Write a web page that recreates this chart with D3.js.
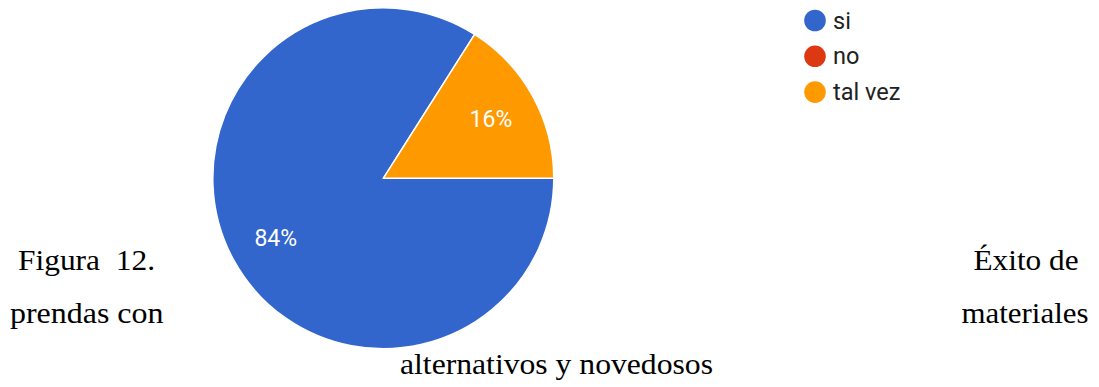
<!DOCTYPE html>
<html>
<head>
<meta charset="utf-8">
<script src="https://cdn.jsdelivr.net/npm/d3@7"></script>
<style>
  html, body { margin: 0; padding: 0; background: #ffffff; }
  svg { display: block; }
  .caption text { white-space: pre; }
</style>
</head>
<body>
<svg id="chart" width="1099" height="387"></svg>
<script>
// Respuestas de la encuesta (porcentaje)
const categories = ["si", "no", "tal vez"];
const values = [84, 0, 16];
const colors = ["#3366cc", "#dc3912", "#ff9900"];

// Pie de figura, línea por línea (texto justificado alrededor del gráfico)
const captionLines = [
  { text: "Figura  12.", x: 18, y: 270, anchor: "start", len: 137 },
  { text: "Éxito de", x: 1078.5, y: 270, anchor: "end", len: 105 },
  { text: "prendas con", x: 10, y: 322.5, anchor: "start", len: 153.5 },
  { text: "materiales", x: 1088.5, y: 322.5, anchor: "end", len: 127 },
  { text: "alternativos y novedosos", x: 556.5, y: 373.5, anchor: "middle", len: 313 }
];

const svg = d3.select("#chart");
const cx = 383.3, cy = 178.3, radius = 170.5;

const data = categories.map((c, i) => ({ label: c, value: values[i], color: colors[i] }));

const pie = d3.pie()
  .value(d => d.value)
  .sort(null)
  .startAngle(Math.PI / 2)
  .endAngle(Math.PI / 2 + 2 * Math.PI);

const arcs = pie(data);
const arc = d3.arc().innerRadius(0).outerRadius(radius);
const labelArc = d3.arc().innerRadius(radius * 0.72).outerRadius(radius * 0.72);

const g = svg.append("g").attr("transform", `translate(${cx},${cy})`);

g.selectAll("path.slice")
  .data(arcs.filter(a => a.data.value > 0))
  .join("path")
  .attr("class", "slice")
  .attr("d", arc)
  .attr("fill", d => d.data.color)
  .attr("stroke", "#ffffff")
  .attr("stroke-width", 1.5)
  .attr("stroke-linejoin", "round");

g.selectAll("text.pct")
  .data(arcs.filter(a => a.data.value > 0))
  .join("text")
  .attr("class", "pct")
  .attr("transform", d => `translate(${labelArc.centroid(d)})`)
  .attr("text-anchor", "middle")
  .attr("dy", "0.36em")
  .attr("fill", "#ffffff")
  .attr("font-family", "Roboto, Arial, sans-serif")
  .attr("font-size", 23)
  .text(d => `${d.data.value}%`);

// Leyenda
const legend = svg.append("g").attr("transform", "translate(815,20.5)");
const legendRow = legend.selectAll("g")
  .data(data)
  .join("g")
  .attr("transform", (d, i) => `translate(0,${i * 35.8})`);

legendRow.append("circle")
  .attr("r", 10.8)
  .attr("fill", d => d.color);

legendRow.append("text")
  .attr("x", 18)
  .attr("dy", "0.34em")
  .attr("fill", "#212121")
  .attr("font-family", "Roboto, Arial, sans-serif")
  .attr("font-size", 23.5)
  .text(d => d.label);

// Pie de figura
svg.append("g")
  .attr("class", "caption")
  .selectAll("text")
  .data(captionLines)
  .join("text")
  .attr("x", d => d.x)
  .attr("y", d => d.y)
  .attr("text-anchor", d => d.anchor)
  .attr("textLength", d => d.len)
  .attr("lengthAdjust", "spacingAndGlyphs")
  .attr("font-family", "'Liberation Serif', 'Times New Roman', serif")
  .attr("font-size", 30)
  .attr("fill", "#000000")
  .text(d => d.text);
</script>
</body>
</html>
